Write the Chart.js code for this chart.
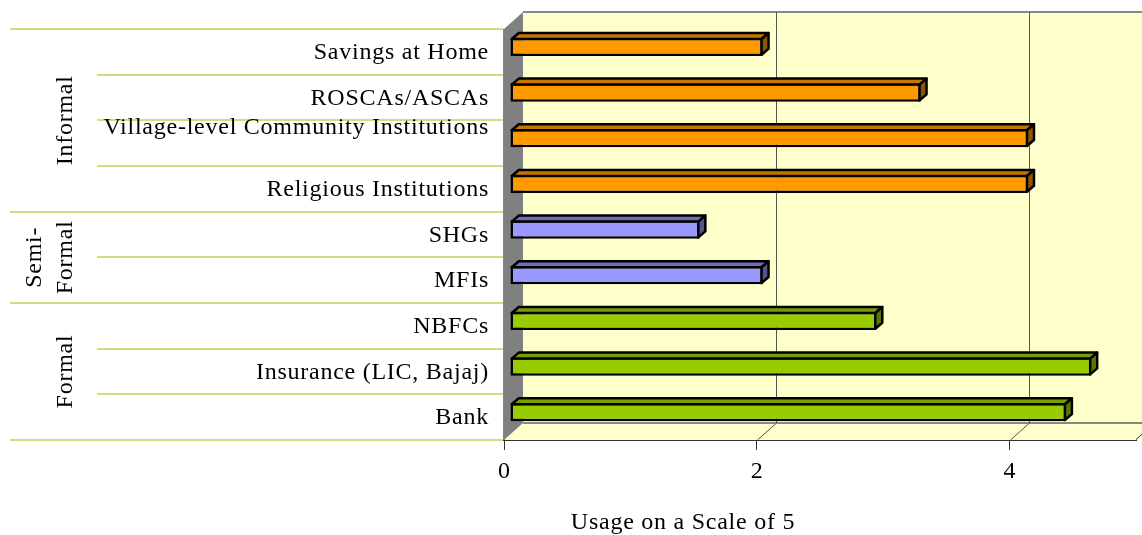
<!DOCTYPE html>
<html>
<head>
<meta charset="utf-8">
<script src="https://cdn.jsdelivr.net/npm/chart.js@4"></script>
<style>
  body { margin: 0; background: #fff; }
  #wrap { width: 1142px; height: 535px; }
</style>
</head>
<body>
<div id="wrap"><canvas id="chart"></canvas></div>
<script>
// data
const categories = ['Savings at Home', 'ROSCAs/ASCAs', 'Village-level Community Institutions', 'Religious Institutions',
  'SHGs', 'MFIs', 'NBFCs', 'Insurance (LIC, Bajaj)', 'Bank'];
const usage = [2.0, 3.25, 4.1, 4.1, 1.5, 2.0, 2.9, 4.6, 4.4];
const groupNames = [['Informal'], ['Semi-', 'Formal'], ['Formal']];
const groupSizes = [4, 2, 3];
const tickStep = 2;
const axisMax = 5;
const axisTitle = 'Usage on a Scale of 5';

// colours per group: front, top, side
const groupColors = [
  ['#FF9900', '#C47600', '#8C5500'],
  ['#9999FF', '#6E6EB8', '#55558F'],
  ['#99CC00', '#789E00', '#5A7600']
];
const barColors = [];
groupSizes.forEach((n, g) => { for (let i = 0; i < n; i++) barColors.push(groupColors[g]); });

const FONT = '"Liberation Serif", "Times New Roman", serif';
const DX = 19, DY = -17;      // depth of the 3d box
const SHIFT = [6, -5];        // bar front face offset
const BD = [7, -6];           // bar depth
const LW = 2.5;

const threeD = {
  id: 'threeD',
  beforeDatasetsDraw(chart) {
    const {ctx, chartArea: a, scales: {x, y}} = chart;
    ctx.save();
    // back wall
    ctx.fillStyle = '#FFFFCC';
    ctx.fillRect(a.left + DX, a.top + DY, a.right - a.left + 40, a.bottom - a.top);
    // floor
    ctx.beginPath();
    ctx.moveTo(a.left, a.bottom); ctx.lineTo(a.right, a.bottom);
    ctx.lineTo(a.right + DX, a.bottom + DY); ctx.lineTo(a.left + DX, a.bottom + DY);
    ctx.closePath(); ctx.fill();
    ctx.strokeStyle = '#333';
    ctx.lineWidth = 1;
    ctx.beginPath();
    ctx.moveTo(a.right, a.bottom - 0.5); ctx.lineTo(a.right + DX, a.bottom + DY);
    ctx.stroke();
    ctx.strokeStyle = '#888';
    ctx.lineWidth = 2;
    ctx.beginPath();
    ctx.moveTo(a.left + DX, a.bottom + DY); ctx.lineTo(a.right + DX + 10, a.bottom + DY);
    ctx.moveTo(a.left + DX, a.top + DY); ctx.lineTo(a.right + DX + 10, a.top + DY);
    ctx.stroke();
    // grid lines on back wall + floor
    ctx.strokeStyle = '#555';
    ctx.lineWidth = 1;
    x.ticks.forEach(t => {
      if (t.value === 0) return;
      const px = Math.round(x.getPixelForValue(t.value)) + 0.5;
      ctx.beginPath();
      ctx.moveTo(px, a.bottom); ctx.lineTo(px + DX, a.bottom + DY);
      ctx.lineTo(px + DX, a.top + DY);
      ctx.stroke();
    });
    // side wall
    ctx.fillStyle = '#808080';
    ctx.beginPath();
    ctx.moveTo(a.left, a.top); ctx.lineTo(a.left + DX, a.top + DY);
    ctx.lineTo(a.left + DX, a.bottom + DY); ctx.lineTo(a.left, a.bottom);
    ctx.closePath(); ctx.fill();
    ctx.strokeStyle = '#7A9A30';
    ctx.beginPath();
    ctx.moveTo(a.left - 0.5, a.top); ctx.lineTo(a.left - 0.5, a.bottom);
    ctx.stroke();

    // category separators and labels
    const rowH = (a.bottom - a.top) / categories.length;
    ctx.strokeStyle = '#C8E27E';
    ctx.lineWidth = 2;
    const groupEdges = [0];
    groupSizes.forEach(n => groupEdges.push(groupEdges[groupEdges.length - 1] + n));
    for (let i = 0; i <= categories.length; i++) {
      const yy = Math.round(a.top + i * rowH);
      ctx.beginPath();
      ctx.moveTo(groupEdges.includes(i) ? 10 : 97, yy);
      ctx.lineTo(a.left - 1, yy);
      ctx.stroke();
    }
    ctx.fillStyle = '#000';
    ctx.font = '24px ' + FONT;
    ctx.letterSpacing = '0.75px';
    ctx.textAlign = 'right';
    ctx.textBaseline = 'middle';
    categories.forEach((c, i) => {
      let yy = y.getPixelForValue(i);
      if (c.startsWith('Village')) yy -= 16;
      ctx.fillText(c, a.left - 15, yy + 1);
    });
    // group labels, rotated
    ctx.textAlign = 'center';
    groupNames.forEach((lines, g) => {
      const yc = a.top + (groupEdges[g] + groupEdges[g + 1]) / 2 * rowH;
      ctx.save();
      ctx.translate(65, yc);
      ctx.rotate(-Math.PI / 2);
      lines.forEach((ln, k) => {
        ctx.fillText(ln, 0, (k - (lines.length - 1)) * 31 + 1);
      });
      ctx.restore();
    });
    // axis title
    ctx.fillText(axisTitle, 683, 523);
    ctx.restore();

    // shift bar front faces into the box
    ctx.save();
    ctx.translate(SHIFT[0], SHIFT[1]);
  },
  afterDatasetsDraw(chart) {
    const {ctx} = chart;
    ctx.restore();
    ctx.save();
    ctx.lineWidth = LW;
    ctx.strokeStyle = '#000';
    ctx.lineJoin = 'round';
    chart.getDatasetMeta(0).data.forEach((bar, i) => {
      const {x, y, base, height} = bar.getProps(['x', 'y', 'base', 'height'], true);
      const h = LW / 2;
      const x0 = base + SHIFT[0] + h, x1 = x + SHIFT[0] - h;
      const t = y - height / 2 + SHIFT[1] + h, b = y + height / 2 + SHIFT[1] - h;
      ctx.fillStyle = barColors[i][1];
      ctx.beginPath();
      ctx.moveTo(x0, t); ctx.lineTo(x0 + BD[0], t + BD[1]);
      ctx.lineTo(x1 + BD[0], t + BD[1]); ctx.lineTo(x1, t);
      ctx.closePath(); ctx.fill(); ctx.stroke();
      ctx.fillStyle = barColors[i][2];
      ctx.beginPath();
      ctx.moveTo(x1, t); ctx.lineTo(x1 + BD[0], t + BD[1]);
      ctx.lineTo(x1 + BD[0], b + BD[1]); ctx.lineTo(x1, b);
      ctx.closePath(); ctx.fill(); ctx.stroke();
    });
    ctx.restore();
  }
};

new Chart(document.getElementById('chart'), {
  type: 'bar',
  data: {
    labels: categories,
    datasets: [{
      data: usage,
      backgroundColor: barColors.map(c => c[0]),
      borderColor: '#000',
      borderWidth: LW,
      borderSkipped: false,
      barPercentage: 0.4,
      categoryPercentage: 1,
      clip: false
    }]
  },
  options: {
    indexAxis: 'y',
    responsive: true,
    maintainAspectRatio: false,
    animation: false,
    layout: { padding: { left: 504, right: 6, top: 29, bottom: 0 } },
    plugins: { legend: { display: false }, tooltip: { enabled: false } },
    scales: {
      y: { display: false },
      x: {
        min: 0,
        max: axisMax,
        afterFit: s => { s.height = 95; },
        ticks: {
          stepSize: tickStep,
          includeBounds: false,
          color: '#000',
          padding: 7,
          font: { family: FONT, size: 24 }
        },
        grid: { drawOnChartArea: false, tickLength: 10, color: '#333' },
        border: { color: '#333', width: 2 }
      }
    }
  },
  plugins: [threeD]
});
</script>
</body>
</html>
